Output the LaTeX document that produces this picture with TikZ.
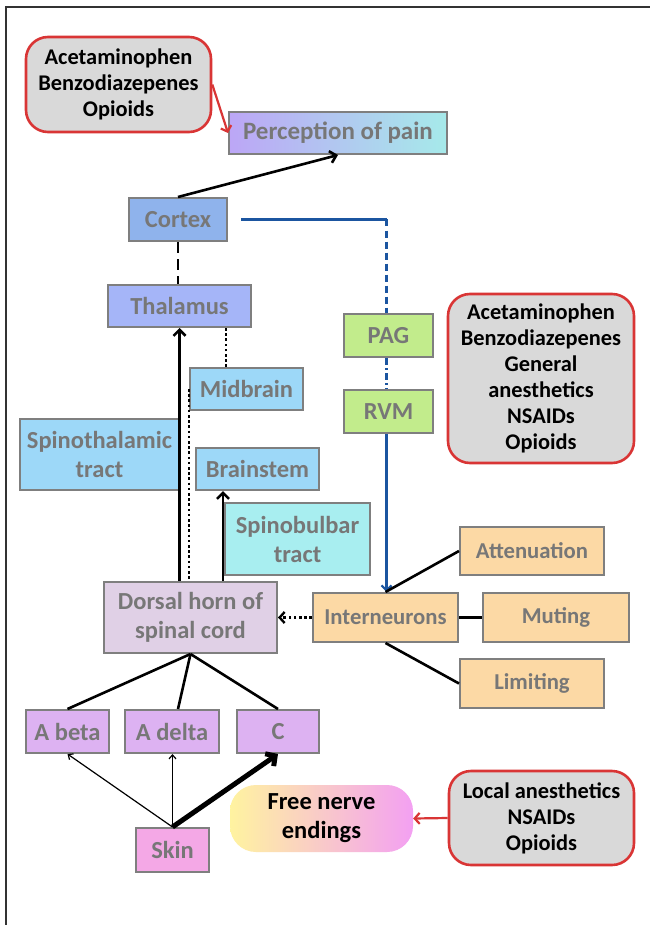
\documentclass[tikz,border=0pt]{standalone}
\usepackage{fontspec}
\setmainfont{Carlito}
\usetikzlibrary{arrows.meta}
\definecolor{boxgray}{HTML}{7F7F7F}
\definecolor{txtgray}{HTML}{777777}
\definecolor{callred}{HTML}{D93535}
\definecolor{callfill}{HTML}{D9D9D9}
\definecolor{lineblue}{HTML}{1B55A0}
\definecolor{cortexc}{HTML}{8FB3EC}
\definecolor{thalc}{HTML}{A5B5F8}
\definecolor{skyc}{HTML}{9DD8F8}
\definecolor{cyanc}{HTML}{A8EEF0}
\definecolor{greenc}{HTML}{C2EC8C}
\definecolor{peachc}{HTML}{FCD9A5}
\definecolor{dorsalc}{HTML}{E0D0E6}
\definecolor{violetc}{HTML}{DDB2F2}
\definecolor{skinc}{HTML}{F4A8E6}
\definecolor{percl}{HTML}{BCA6F6}
\definecolor{percr}{HTML}{A6EAEA}
\definecolor{freel}{HTML}{FFF3A0}
\definecolor{freem}{HTML}{F9BDD2}
\definecolor{freer}{HTML}{F3A0F2}
\tikzset{
  box/.style={draw=boxgray, line width=2pt, inner sep=0pt, align=center,
    font=\bfseries\fontsize{24.5}{29}\selectfont, text=txtgray},
  peach/.style={box, fill=peachc, font=\bfseries\fontsize{22.7}{29}\selectfont},
  callout/.style={draw=callred, line width=2.6pt, fill=callfill, rounded corners=22pt,
    inner sep=0pt, align=center, font=\bfseries\fontsize{22.4}{26}\selectfont, text=black},
  blackline/.style={draw=black, line width=2.6pt},
  blackarrow/.style={blackline, -{Straight Barb[length=6pt,width=12pt,line width=2.6pt]}},
  thinarrow/.style={draw=black, line width=1.2pt, -{Straight Barb[length=4pt,width=7pt,line width=1.2pt]}},
  thickarrow/.style={draw=black, line width=5pt, -{Straight Barb[length=7pt,width=15pt,line width=5pt]}},
  dotline/.style={draw=black, line width=2.6pt, dash pattern=on 2.6pt off 2.6pt},
  dashline/.style={draw=black, line width=2.8pt, dash pattern=on 11pt off 6pt},
  blueline/.style={draw=lineblue, line width=2.2pt},
  redarrow/.style={draw=callred, line width=2.2pt, -{Straight Barb[length=5pt,width=11pt,line width=2.2pt]}}
}
\begin{document}
\begin{tikzpicture}[x=1pt,y=-1pt]
\useasboundingbox (0,0) rectangle (650,925);
\fill[white] (0,0) rectangle (650,925);
% frame
\draw[line width=1.5pt, draw=black!80] (6,925) -- (6,7) -- (650,7);

% nodes
\node[callout, minimum width=185pt, minimum height=95pt] (callA) at (118.5,84.5) {Acetaminophen\\Benzodiazepenes\\Opioids};
\node[box, left color=percl, right color=percr, minimum width=218pt, minimum height=42pt, font=\bfseries\fontsize{25}{29}\selectfont] (perc) at (338,133) {Perception of pain};
\node[box, fill=cortexc, minimum width=98pt, minimum height=43pt] (cortex) at (178,219.5) {Cortex};
\node[box, fill=thalc, minimum width=143pt, minimum height=42pt] (thal) at (179.5,306) {Thalamus};
\node[box, fill=greenc, minimum width=89pt, minimum height=43pt] (pag) at (388.5,335.5) {PAG};
\node[box, fill=greenc, minimum width=89pt, minimum height=43pt] (rvm) at (388.5,411.5) {RVM};
\node[callout, minimum width=186pt, minimum height=169pt] (callB) at (541,378.5) {Acetaminophen\\Benzodiazepenes\\General\\anesthetics\\NSAIDs\\Opioids};
\node[box, fill=skyc, minimum width=113pt, minimum height=42pt] (mid) at (246.5,389) {Midbrain};
\node[box, fill=skyc, minimum width=159pt, minimum height=71pt] (spth) at (99.5,454.5) {Spinothalamic\\tract};
\node[box, fill=skyc, minimum width=123pt, minimum height=42pt] (brain) at (257.5,469) {Brainstem};
\node[box, fill=cyanc, minimum width=145pt, minimum height=72pt] (spbb) at (297.5,539) {Spinobulbar\\tract};
\node[peach, minimum width=144pt, minimum height=48pt] (atten) at (532,551) {Attenuation};
\node[box, fill=dorsalc, minimum width=173pt, minimum height=71pt] (dorsal) at (190.5,617.5) {Dorsal horn of\\spinal cord};
\node[peach, minimum width=145pt, minimum height=49pt] (inter) at (385.5,617.5) {Interneurons};
\node[peach, minimum width=146pt, minimum height=49pt] (mute) at (556,617.5) {Muting};
\node[peach, minimum width=144pt, minimum height=49pt] (limit) at (532,683.5) {Limiting};
\node[box, fill=violetc, minimum width=83pt, minimum height=43pt] (abeta) at (67.5,731.5) {A beta};
\node[box, fill=violetc, minimum width=94pt, minimum height=43pt] (adelta) at (172,731.5) {A delta};
\node[box, fill=violetc, minimum width=82pt, minimum height=43pt] (cnode) at (278,731.5) {C};
\node[box, fill=skinc, minimum width=73pt, minimum height=44pt] (skin) at (172.5,850) {Skin};
\node[inner sep=0pt, rounded corners=26pt, left color=freel, middle color=freem, right color=freer,
  minimum width=183pt, minimum height=67pt, align=center, font=\bfseries\fontsize{24.5}{29}\selectfont, text=black] (free) at (321.5,818.5) {Free nerve\\endings};
\node[callout, minimum width=185pt, minimum height=94pt] (callC) at (541.5,818) {Local anesthetics\\NSAIDs\\Opioids};

% connectors
\draw[redarrow] (callA.east) -- (perc.west);
\draw[blackarrow] (cortex.north) -- (perc.south);
\draw[dashline] (cortex.south) -- (cortex.south |- thal.north);
\draw[blueline] ([xshift=13pt]cortex.east) -- ([xshift=-2pt]pag.north |- cortex.east) coordinate (bend);
\draw[blueline, dash pattern=on 7pt off 4pt] (bend) -- (bend |- pag.north);
\draw[blueline, dash pattern=on 7pt off 3pt on 2pt off 3pt] ([xshift=-2pt]pag.south) -- ([xshift=-2pt]rvm.north);
\draw[blueline, -{Straight Barb[length=5pt,width=10pt,line width=2.2pt]}] ([xshift=-2pt]rvm.south) -- ([xshift=-2pt]rvm.south |- inter.north);
\draw[blackarrow] (thal.south |- dorsal.north) -- (thal.south);
\draw[dotline] ([xshift=-20.5pt]mid.north) -- ([xshift=-20.5pt]mid.north |- thal.south);
\draw[dotline] (mid.west) -- (mid.west |- dorsal.north);
\draw[blackarrow] ([xshift=-1pt]spbb.west |- dorsal.north) -- ([xshift=-1pt]spbb.west |- brain.south);
\draw[dotline, -{Straight Barb[length=5pt,width=11pt,line width=2.4pt]}] (inter.west) -- (dorsal.east);
\draw[blackline] (inter.north) -- (atten.west);
\draw[blackline] (inter.east) -- (mute.west);
\draw[blackline] (inter.south) -- (limit.west);
\draw[blackline] (dorsal.south) -- (abeta.north);
\draw[blackline] (dorsal.south) -- ([xshift=6pt]adelta.north);
\draw[blackline] (dorsal.south) -- (cnode.north);
\draw[thinarrow] (skin.north) -- (abeta.south);
\draw[thinarrow] (skin.north) -- (skin.north |- adelta.south);
\draw[thickarrow] (skin.north) -- (cnode.south);
\draw[redarrow] (callC.west) -- (free.east);
\end{tikzpicture}
\end{document}
